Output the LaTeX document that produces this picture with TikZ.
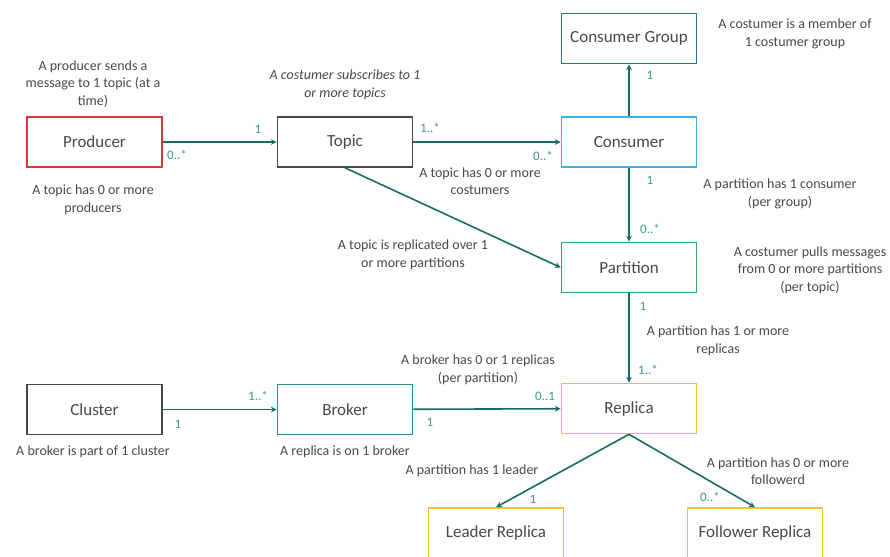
\documentclass[tikz,border=0pt]{standalone}
\usepackage{fontspec}
\setmainfont{Carlito}
\usepackage{xcolor}
\usetikzlibrary{arrows, positioning}
\definecolor{linkteal}{RGB}{24,108,100}
\definecolor{multteal}{RGB}{62,150,144}
\definecolor{notegray}{RGB}{72,72,72}
\definecolor{prodred}{RGB}{214,54,60}
\definecolor{groupblue}{RGB}{40,110,180}
\definecolor{consblue}{RGB}{60,180,225}
\definecolor{partgreen}{RGB}{50,165,105}
\definecolor{brokteal}{RGB}{40,140,135}
\definecolor{repyellow}{RGB}{240,195,50}
\tikzstyle{entity} = [rectangle, 
minimum width=135pt, 
minimum height=50pt, 
text centered, 
line width=1.6pt,
text=notegray,
font=\fontsize{17}{19}\selectfont,
draw=black]
\tikzstyle{note} = [align=center, text=notegray, font=\fontsize{14}{17.5}\selectfont]
\tikzstyle{mult} = [text=multteal, font=\fontsize{13}{15}\selectfont]
\tikzstyle{arrow} = [line width=1.6pt,->,>=stealth, draw=linkteal]

\begin{document}
\begin{tikzpicture}[x=1pt, y=-1pt]
        \useasboundingbox (0,0) rectangle (890,556);
        \clip (0,0) rectangle (890,556);

        % --- Entidades ---
        \node (producer) [entity, draw=prodred] at (94.5,142) {Producer};
        \node (topic) [entity, draw=notegray] at (345,142) {Topic};
        \node (group) [entity, draw=groupblue] at (629,38.5) {Consumer Group};
        \node (consumer) [entity, draw=consblue] at (629,142) {Consumer};
        \node (partition) [entity, draw=partgreen] at (629,267.5) {Partition};
        \node (cluster) [entity, draw=notegray] at (94.5,409.5) {Cluster};
        \node (broker) [entity, draw=brokteal] at (345,409.5) {Broker};
        \node (replica) [entity, draw=repyellow] at (629,408.5) {Replica};
        \node (leader) [entity, draw=repyellow] at (496,533) {Leader Replica};
        \node (follower) [entity, draw=repyellow] at (755,533) {Follower Replica};

        % --- Conexiones ---
        \draw [arrow] (producer) -- (topic);
        \draw [arrow] (topic) -- (consumer);
        \draw [arrow] (consumer) -- (group);
        \draw [arrow] (consumer) -- (partition);
        \draw [arrow] (topic.south) -- (partition.west);
        \draw [arrow] (partition) -- (replica);
        \draw [arrow] (cluster) -- (broker);
        \draw [arrow] (broker) -- (replica);
        \draw [arrow] (replica.south) -- (leader.north);
        \draw [arrow] (replica.south) -- (follower.north);

        % --- Multiplicidades ---
        \node (m_prod) [mult] at (177,155) {0..*};
        \node (m_topa) [mult] at (258,129) {1};
        \node (m_topb) [mult] at (430,128) {1..*};
        \node (m_consa) [mult] at (543,156) {0..*};
        \node (m_grp) [mult] at (650,75) {1};
        \node (m_consb) [mult] at (650,180) {1};
        \node (m_part) [mult] at (650,229) {0..*};
        \node (m_partb) [mult] at (643,306) {1};
        \node (m_rep) [mult] at (648,370) {1..*};
        \node (m_repb) [mult] at (545,396) {0..1};
        \node (m_brok) [mult] at (430,422) {1};
        \node (m_clus) [mult] at (178,424) {1};
        \node (m_brokb) [mult] at (258,396) {1..*};
        \node (m_lead) [mult] at (533,499) {1};
        \node (m_foll) [mult] at (710,497) {0..*};

        % --- Notas ---
        \node (n_send) [note] at (93,84) {A producer sends a\\message to 1 topic (at a\\time)};
        \node (n_prods) [note] at (93,200) {A topic has 0 or more\\producers};
        \node (n_subs) [note, font=\fontsize{14}{17.5}\selectfont\itshape] at (345,85) {A costumer subscribes to 1\\or more topics};
        \node (n_costs) [note] at (480,181) {A topic has 0 or more\\costumers};
        \node (n_member) [note] at (795,34) {A costumer is a member of\\1 costumer group};
        \node (n_pcons) [note] at (780,194) {A partition has 1 consumer\\(per group)};
        \node (n_pulls) [note] at (810,270) {A costumer pulls messages\\from 0 or more partitions\\(per topic)};
        \node (n_repl) [note] at (413,255) {A topic is replicated over 1\\or more partitions};
        \node (n_reps) [note] at (718,341) {A partition has 1 or more\\replicas};
        \node (n_brep) [note] at (478,370) {A broker has 0 or 1 replicas\\(per partition)};
        \node (n_clus) [note] at (93,452) {A broker is part of 1 cluster};
        \node (n_onbr) [note] at (345,452) {A replica is on 1 broker};
        \node (n_lead) [note] at (472,471) {A partition has 1 leader};
        \node (n_foll) [note] at (778,471) {A partition has 0 or more\\followerd};

    \end{tikzpicture}
\end{document}
